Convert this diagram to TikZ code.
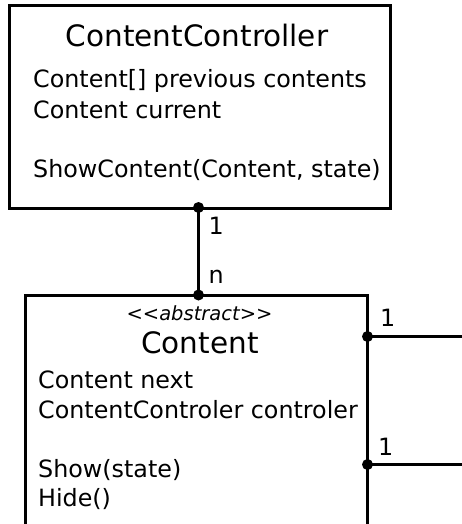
\documentclass[tikz,border=0pt]{standalone}
\usepackage{fontspec}
\setmainfont{DejaVu Sans}
\begin{document}
\begin{tikzpicture}[x=1pt,y=-1pt,
  box/.style={draw, line width=3pt, rectangle, inner sep=0pt, outer sep=0pt},
  conn/.style={draw, line width=3pt},
  blob/.style={circle, fill=black, inner sep=0pt, minimum size=11pt},
  txt/.style={inner sep=0pt, anchor=base west, font=\fontsize{23.8}{28}\selectfont},
  ttl/.style={inner sep=0pt, anchor=base, font=\fontsize{29.5}{34}\selectfont},
  stereo/.style={inner sep=0pt, anchor=base, font=\fontsize{19.5}{23}\selectfont\itshape}]
\useasboundingbox (0,0) rectangle (462,524);
\clip (0,0) rectangle (462,524);
% boxes
\node[box, minimum width=381pt, minimum height=202pt] (cc) at (199.5,107) {};
\node[box, minimum width=342pt, minimum height=270pt, anchor=north west] (ct) at (25.7,295) {};
% ContentController texts
\node[ttl] (cctitle) at (197,46.5) {ContentController};
\node[txt] (cca1) at (33,88) {Content[] previous contents};
\node[txt] (cca2) at (33,118) {Content current};
\node[txt] (ccm1) at (33,177) {ShowContent(Content, state)};
% Content texts
\node[stereo] (ctst) at (199.5,320) {<\kern0pt<abstract>\kern0pt>};
\node[ttl] (cttitle) at (200,353) {Content};
\node[txt] (cta1) at (38,388) {Content next};
\node[txt] (cta2) at (38,418) {ContentControler controler};
\node[txt] (ctm1) at (38,477) {Show(state)};
\node[txt] (ctm2) at (38,506) {Hide()};
% dots
\node[blob] (d1) at (198.5,207.5) {};
\node[blob] (d2) at (198.5,295) {};
\node[blob] (d3) at (367.5,336.5) {};
\node[blob] (d4) at (367.5,464.5) {};
\coordinate (e3) at (470,336.5);
\coordinate (e4) at (470,464.5);
% connectors
\draw[conn] (d1.center) -- (d2.center);
\draw[conn] (d3.center) -- (e3);
\draw[conn] (d4.center) -- (e4);
% labels
\node[txt] (l1) at (208.5,234) {1};
\node[txt] (l2) at (208.5,283.5) {n};
\node[txt] (l3) at (380,326.7) {1};
\node[txt] (l4) at (378,455) {1};
\end{tikzpicture}
\end{document}
